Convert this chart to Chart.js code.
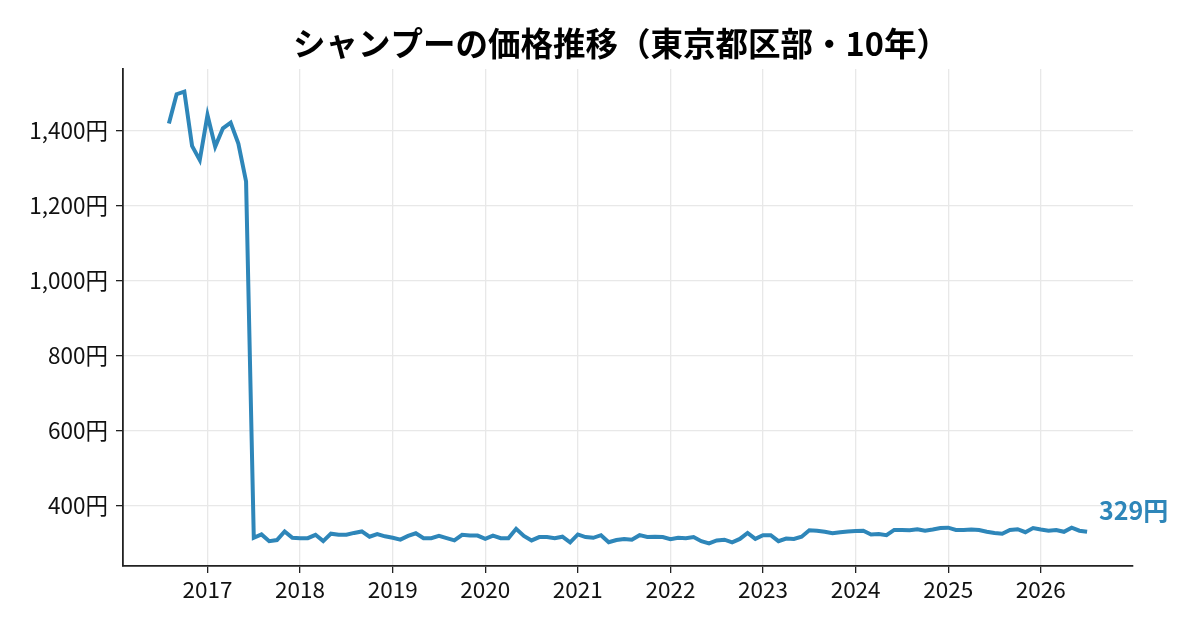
<!DOCTYPE html>
<html>
<head>
<meta charset="utf-8">
<script src="https://cdn.jsdelivr.net/npm/chart.js@4"></script>
<style>
  html, body { margin: 0; padding: 0; background: #fff; }
  #wrap { width: 1200px; height: 630px; }
</style>
</head>
<body>
<div id="wrap"><canvas id="precoChart" width="1200" height="630"></canvas></div>
<script>
// データ（月次、2016年8月〜2026年7月）
const startYear = 2016;
const startMonth = 8;
const prices2016 = [1420, 1498, 1505, 1360, 1322];
const prices2017 = [1442, 1358, 1407, 1422, 1366, 1265, 313, 322, 304, 307, 330, 313];
const prices2018 = [312, 312, 321, 304, 324, 321, 321, 326, 330, 316, 323, 317];
const prices2019 = [313, 308, 318, 325, 312, 312, 318, 312, 306, 321, 319, 319];
const prices2020 = [310, 319, 312, 312, 337, 318, 306, 315, 315, 312, 316, 301];
const prices2021 = [322, 315, 313, 320, 301, 307, 310, 308, 320, 315, 316, 315];
const prices2022 = [309, 313, 312, 315, 304, 298, 306, 308, 301, 310, 326, 310];
const prices2023 = [320, 320, 304, 311, 310, 316, 333, 332, 329, 325, 328, 330];
const prices2024 = [331, 332, 322, 323, 320, 334, 334, 333, 336, 332, 335, 339];
const prices2025 = [340, 334, 334, 335, 334, 329, 326, 324, 334, 336, 328, 339];
const prices2026 = [335, 332, 334, 329, 340, 332, 329];

const xTicks = [2017, 2018, 2019, 2020, 2021, 2022, 2023, 2024, 2025, 2026];
const yTicks = [400, 600, 800, 1000, 1200, 1400];

const chartTitle = 'シャンプーの価格推移（東京都区部・10年）';
const lineColor = '#2E86B9';
const fontFamily = '"Noto Sans CJK JP", "Noto Sans", sans-serif';

const prices = [].concat(prices2016, prices2017, prices2018, prices2019, prices2020,
    prices2021, prices2022, prices2023, prices2024, prices2025, prices2026);

// 年を小数で表す（例: 2016年8月 -> 2016 + 7/12）
const points = prices.map((v, i) => {
    const m = startMonth - 1 + i;
    return { x: startYear + m / 12, y: v };
});

function yen(v) {
    return v.toLocaleString('en-US') + '円';
}

const xs = points.map(p => p.x);
const ys = points.map(p => p.y);
const xPad = (Math.max(...xs) - Math.min(...xs)) * 0.05;
const yPad = (Math.max(...ys) - Math.min(...ys)) * 0.05;

const extras = {
    id: 'extras',
    afterDatasetsDraw(chart) {
        const ctx = chart.ctx;
        // タイトル
        ctx.save();
        ctx.fillStyle = '#000';
        ctx.font = 'bold 32.5px ' + fontFamily;
        ctx.textAlign = 'center';
        ctx.textBaseline = 'middle';
        ctx.fillText(chartTitle, 621, 44);
        // 最新値ラベル
        const last = points[points.length - 1];
        const px = chart.scales.x.getPixelForValue(last.x);
        const py = chart.scales.y.getPixelForValue(last.y);
        ctx.fillStyle = lineColor;
        ctx.font = 'bold 25px ' + fontFamily;
        ctx.textAlign = 'left';
        ctx.fillText(yen(last.y), px + 12, py - 21);
        ctx.restore();
    }
};

const ctx = document.getElementById('precoChart').getContext('2d');
new Chart(ctx, {
    type: 'line',
    data: {
        datasets: [{
            data: points,
            borderColor: lineColor,
            borderWidth: 4,
            pointRadius: 0,
            tension: 0,
            fill: false
        }]
    },
    options: {
        responsive: false,
        animation: false,
        layout: { padding: { left: 0, right: 67, top: 69, bottom: 0 } },
        plugins: {
            legend: { display: false },
            title: { display: false },
            tooltip: { enabled: false }
        },
        scales: {
            x: {
                type: 'linear',
                min: Math.min(...xs) - xPad,
                max: Math.max(...xs) + xPad,
                afterBuildTicks: s => { s.ticks = xTicks.map(v => ({ value: v })); },
                afterFit: s => { s.height = 64; },
                grid: {
                    color: '#e8e8e8',
                    lineWidth: 1.3,
                    tickColor: '#222',
                    tickLength: 7,
                    drawTicks: true
                },
                border: { color: '#222', width: 1.8 },
                ticks: {
                    color: '#111',
                    padding: 3,
                    maxRotation: 0,
                    font: { family: fontFamily, size: 22.5 },
                    callback: v => String(v)
                }
            },
            y: {
                min: Math.min(...ys) - yPad,
                max: Math.max(...ys) + yPad,
                afterBuildTicks: s => { s.ticks = yTicks.map(v => ({ value: v })); },
                afterFit: s => { s.width = 123; },
                grid: {
                    color: '#e8e8e8',
                    lineWidth: 1.3,
                    tickColor: '#222',
                    tickLength: 7,
                    drawTicks: true
                },
                border: { color: '#222', width: 1.8 },
                ticks: {
                    color: '#111',
                    padding: 8,
                    font: { family: fontFamily, size: 22.5 },
                    callback: v => yen(v)
                }
            }
        }
    },
    plugins: [extras]
});
</script>
</body>
</html>
